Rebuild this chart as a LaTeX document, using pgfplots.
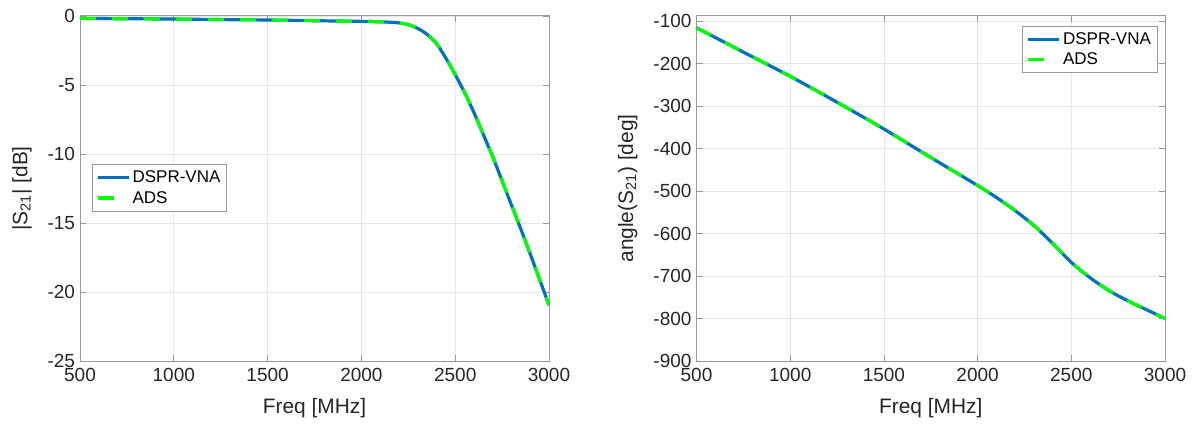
\documentclass[border=0pt]{standalone}
\usepackage{pgfplots}
\pgfplotsset{compat=1.18}
\usepackage{fontspec}
\setmainfont{Liberation Sans}
\definecolor{mblue}{rgb}{0,0.447,0.741}
\definecolor{mgreen}{rgb}{0,1,0}
\definecolor{axgray}{gray}{0.6}
\definecolor{txtgray}{gray}{0.15}
\pgfplotsset{
 mystyle/.style={
  scale only axis, width=469bp, height=345bp,
  xmin=500, xmax=3000, xtick={500,1000,...,3000},
  axis line style={draw=axgray, line width=1bp},
  tick style={draw=axgray, line width=0.8bp},
  tick align=inside, major tick length=6bp,
  grid=major, major grid style={draw=black!9, line width=0.8bp},
  ticklabel style={font=\fontsize{19bp}{22bp}\selectfont, text=txtgray},
  /pgf/number format/assume math mode=true,
  /pgf/number format/1000 sep={},
  label style={font=\fontsize{20.9bp}{24bp}\selectfont, text=txtgray},
  xticklabel style={yshift=-4bp},
  yticklabel style={xshift=-1.5bp},
  xlabel style={at={(axis description cs:0.5,0)}, anchor=base, yshift=-52bp},
  legend image code/.code={\draw[##1] (0bp,0bp) -- (31bp,0bp);},
  legend style={draw=axgray, line width=0.8bp, fill=white,
    font=\fontsize{17bp}{20bp}\selectfont, text=black,
    inner xsep=4bp, inner ysep=4.5bp, row sep=3bp, cells={anchor=west}},
 },
 vna/.style={draw=mblue, line width=3.2bp, solid, smooth, tension=0.5},
 ads/.style={draw=mgreen, line width=3.2bp, dash pattern=on 16bp off 16bp, smooth, tension=0.5},
}
\begin{document}
\begin{tikzpicture}
\useasboundingbox (0,0) rectangle (1196bp,425bp);
\begin{axis}[mystyle, at={(80bp,64bp)}, anchor=south west,
  ymin=-25, ymax=0, ytick={-25,-20,...,0},
  xlabel={Freq [MHz]}, ylabel={|S\textsubscript{21}| [dB]},
  ylabel style={at={(axis description cs:-0.112,0.5)}, anchor=base},
  legend style={at={(axis description cs:0.0256,0.571)}, anchor=north west}]
\addplot[vna] coordinates {
(500,-0.17) (750,-0.20) (1000,-0.22) (1250,-0.26) (1500,-0.29) (1750,-0.34)
(1900,-0.37) (2000,-0.39) (2100,-0.42) (2150,-0.45) (2200,-0.50) (2250,-0.63)
(2300,-0.90) (2350,-1.33) (2400,-2.0) (2450,-3.05) (2500,-4.25) (2550,-5.55)
(2600,-7.0) (2650,-8.6) (2700,-10.2) (2750,-11.95) (2800,-13.7) (2850,-15.45)
(2900,-17.25) (2950,-19.1) (3000,-20.95)};
\addlegendentry{DSPR-VNA}
\addplot[ads] coordinates {
(500,-0.17) (750,-0.20) (1000,-0.22) (1250,-0.26) (1500,-0.29) (1750,-0.34)
(1900,-0.37) (2000,-0.39) (2100,-0.42) (2150,-0.45) (2200,-0.50) (2250,-0.63)
(2300,-0.90) (2350,-1.33) (2400,-2.0) (2450,-3.05) (2500,-4.25) (2550,-5.55)
(2600,-7.0) (2650,-8.6) (2700,-10.2) (2750,-11.95) (2800,-13.7) (2850,-15.45)
(2900,-17.25) (2950,-19.1) (3000,-20.95)};
\addlegendentry{ADS}
\end{axis}
\begin{axis}[mystyle, at={(696.5bp,64bp)}, anchor=south west, width=468.5bp,
  ymin=-900, ymax=-88, ytick={-900,-800,...,-100},
  xlabel={Freq [MHz]}, ylabel={angle(S\textsubscript{21}) [deg]},
  ylabel style={at={(axis description cs:-0.1355,0.5)}, anchor=base},
  legend style={at={(axis description cs:0.9836,0.9719)}, anchor=north east}]
\addplot[vna] coordinates {
(500,-115.6) (750,-173) (1000,-230) (1250,-291) (1500,-354) (1750,-421)
(2000,-487) (2100,-515) (2200,-546) (2300,-581) (2400,-623) (2500,-668)
(2600,-704) (2700,-734) (2800,-758) (2900,-779) (3000,-800)};
\addlegendentry{DSPR-VNA}
\addplot[ads] coordinates {
(500,-115.6) (750,-173) (1000,-230) (1250,-291) (1500,-354) (1750,-421)
(2000,-487) (2100,-515) (2200,-546) (2300,-581) (2400,-623) (2500,-668)
(2600,-704) (2700,-734) (2800,-758) (2900,-779) (3000,-800)};
\addlegendentry{ADS}
\end{axis}
\end{tikzpicture}
\end{document}
